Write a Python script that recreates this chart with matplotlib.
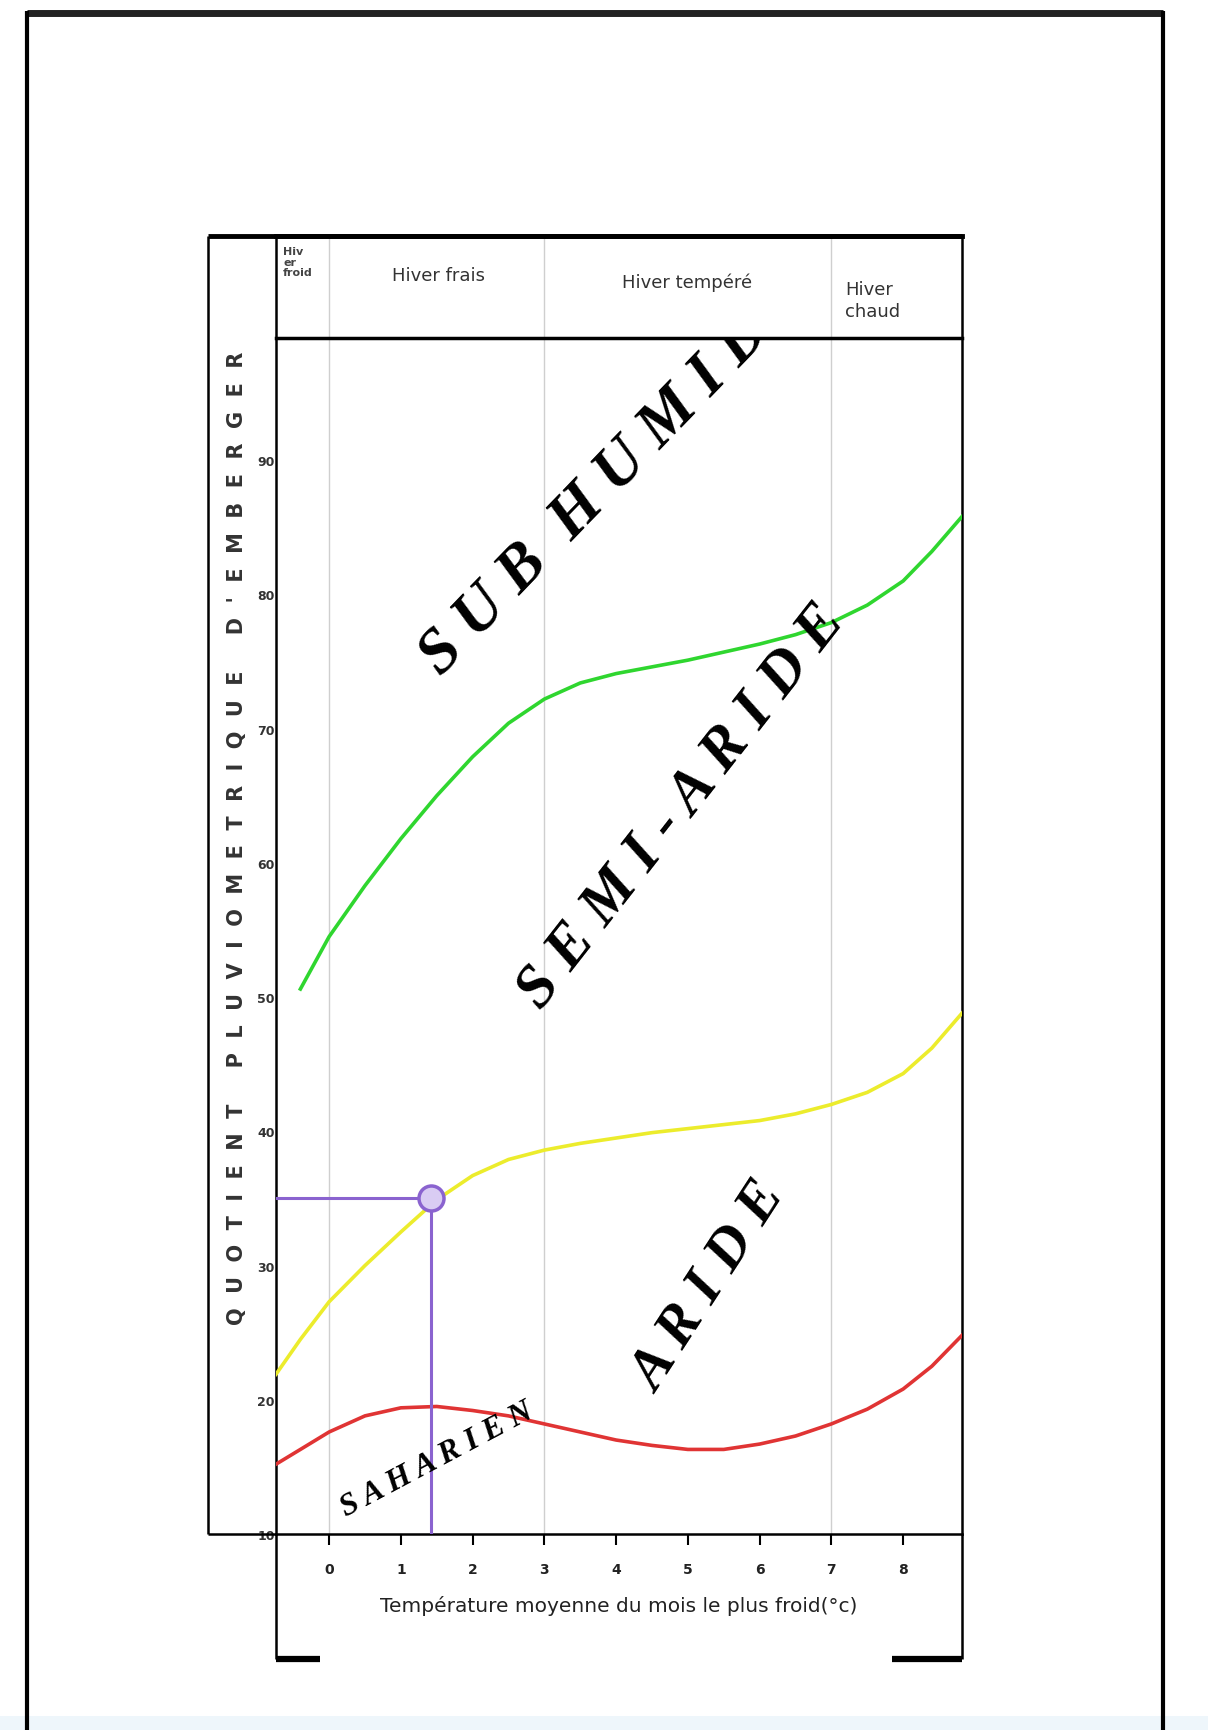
import matplotlib.pyplot as plt
from matplotlib.lines import Line2D
from matplotlib.patches import Rectangle

W, H = 1208, 1731

# axes ticks
temp_ticks = [0, 1, 2, 3, 4, 5, 6, 7, 8]
q2_ticks = [10, 20, 30, 40, 50, 60, 70, 80, 90]

# winter types (limits on the temperature axis)
winter_bounds = [0, 3, 7]
winter_labels = ['Hiv\ner\nfroid', 'Hiver frais', 'Hiver tempéré', 'Hiver\nchaud']

# limit curves (m, Q2)
green_x = [-0.4, 0, 0.5, 1, 1.5, 2, 2.5, 3, 3.5, 4, 4.5, 5, 5.5, 6, 6.5, 7, 7.5, 8, 8.4, 8.82]
green_y = [50.6, 54.5, 58.3, 61.8, 65.0, 67.9, 70.4, 72.2, 73.4, 74.1, 74.6, 75.1, 75.7, 76.3,
           77.0, 77.9, 79.2, 81.0, 83.2, 85.8]

yellow_x = [-0.74, -0.4, 0, 0.5, 1, 1.5, 2, 2.5, 3, 3.5, 4, 4.5, 5, 5.5, 6, 6.5, 7, 7.5, 8, 8.4, 8.82]
yellow_y = [21.9, 24.5, 27.3, 30.0, 32.5, 34.9, 36.7, 37.9, 38.6, 39.1, 39.5, 39.9, 40.2, 40.5,
            40.8, 41.3, 42.0, 42.9, 44.3, 46.2, 48.8]

red_x = [-0.74, -0.4, 0, 0.5, 1, 1.5, 2, 2.5, 3, 3.5, 4, 4.5, 5, 5.5, 6, 6.5, 7, 7.5, 8, 8.4, 8.82]
red_y = [15.2, 16.3, 17.6, 18.8, 19.4, 19.5, 19.2, 18.8, 18.2, 17.6, 17.0, 16.6, 16.3, 16.3,
         16.7, 17.3, 18.2, 19.3, 20.8, 22.5, 24.8]

# station
station_m = 1.42
station_q = 35

# bioclimatic zones: name, m, Q2, angle
zones = ['S U B  H U M I D', 'S E M I - A R I D E', 'A R I D E', 'S A H A R I E N']
zone_m = [3.7, 4.9, 5.3, 1.5]
zone_q = [87.5, 64.3, 28.4, 15.6]
zone_angle = [46, 52, 57, 28]
zone_size = [46, 44, 42, 23]

xmin, xmax = -0.74, 8.82
ymin, ymax = 10, 99.1


def box(x0, y0, x1, y1):
    return [x0 / W, 1 - y1 / H, (x1 - x0) / W, (y1 - y0) / H]


def fline(xs, ys, lw, color='black'):
    fig.add_artist(Line2D([x / W for x in xs], [1 - y / H for y in ys],
                          lw=lw, color=color, solid_capstyle='butt'))


fig = plt.figure(figsize=(W / 100, H / 100), dpi=100)
fig.patch.set_facecolor('white')
fig.add_artist(Rectangle((0, 0), 1, 14 / H, transform=fig.transFigure,
                         color='#eef6fb', lw=0))

ax = fig.add_axes(box(276, 339, 962, 1535))
hd = fig.add_axes(box(276, 237, 962, 339))

# main plot
for b in winter_bounds:
    ax.axvline(b, color='#cfcfcf', lw=1, zorder=1)

ax.plot(green_x, green_y, color='#2fd62f', lw=2.6, zorder=3)
ax.plot(yellow_x, yellow_y, color='#ecec2c', lw=2.6, zorder=3)
ax.plot(red_x, red_y, color='#e03434', lw=2.6, zorder=3)

ax.plot([xmin, station_m], [station_q, station_q], color='#8a63cf', lw=2.2, zorder=4)
ax.plot([station_m, station_m], [ymin, station_q], color='#8a63cf', lw=2.2, zorder=4)
ax.plot([station_m], [station_q], 'o', ms=18, mfc='#d9ccf3', mec='#8a63cf', mew=2.5, zorder=5)

for name, m, q, a, s in zip(zones, zone_m, zone_q, zone_angle, zone_size):
    ax.text(m, q, name, rotation=a, rotation_mode='anchor', ha='center', va='center',
            fontsize=s, fontweight='bold', style='italic', family='Liberation Serif',
            color='black', clip_on=True, zorder=6)

ax.set_xlim(xmin, xmax)
ax.set_ylim(ymin, ymax)
ax.set_xticks(temp_ticks)
ax.set_yticks(q2_ticks)
ax.tick_params(axis='x', direction='out', length=8, width=1.5, pad=12,
               labelsize=10, labelcolor='#222222')
ax.tick_params(axis='y', length=0, pad=1, labelsize=9, labelcolor='#333333')
for lab in ax.get_xticklabels() + ax.get_yticklabels():
    lab.set_fontweight('bold')
for side in ['left', 'bottom', 'right']:
    ax.spines[side].set_linewidth(1.8)
ax.spines['top'].set_visible(False)
ax.set_xlabel('Température moyenne du mois le plus froid(°c)', fontsize=14.5,
              color='#222222', labelpad=14)

# header with winter types
hd.set_xlim(xmin, xmax)
hd.set_ylim(0, 1)
hd.set_xticks([])
hd.set_yticks([])
for b in winter_bounds:
    hd.axvline(b, color='#cfcfcf', lw=1)
for side in ['left', 'right']:
    hd.spines[side].set_linewidth(1.8)
hd.spines['top'].set_linewidth(3.5)
hd.spines['bottom'].set_linewidth(2.5)
hd.text(-0.64, 0.9, winter_labels[0], ha='left', va='top', fontsize=8,
        fontweight='bold', color='#444444', linespacing=1.05)
hd.text(1.52, 0.62, winter_labels[1], ha='center', va='center', fontsize=13, color='#333333')
hd.text(4.99, 0.55, winter_labels[2], ha='center', va='center', fontsize=13, color='#333333')
hd.text(7.19, 0.37, winter_labels[3], ha='left', va='center', fontsize=13, color='#333333',
        linespacing=1.3)

# y label in the left column
fig.text(237 / W, 1 - 838 / H, "  ".join("QUOTIENT PLUVIOMETRIQUE D'EMBERGER"),
         rotation=90, ha='center', va='center', fontsize=15, fontweight='bold',
         color='#333333')

# frame around the diagram
fline([208, 962], [237, 237], 3.5)
fline([208, 208], [237, 1535], 1.8)
fline([208, 276], [1535, 1535], 1.8)
fline([276, 276], [1535, 1660], 1.8)
fline([962, 962], [1535, 1660], 1.8)
fline([276, 320], [1660, 1660], 4.5)
fline([892, 962], [1660, 1660], 4.5)

# outer page frame
fline([27, 1163], [14, 14], 5, '#222222')
fline([27, 27], [12, 1731], 3)
fline([1163, 1163], [12, 1731], 3)

fig.savefig('out.png', dpi=100)
